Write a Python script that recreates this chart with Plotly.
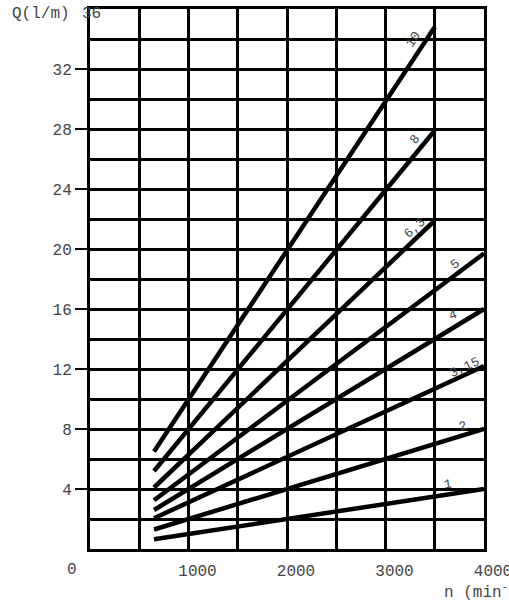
import plotly.graph_objects as go

# Data
names = ["1", "2", "3,15", "4", "5", "6,3", "8", "10"]
n_start = [650, 650, 650, 650, 650, 650, 650, 650]
n_end = [4000, 4000, 4000, 4000, 4000, 3500, 3500, 3500]
q_start = [0.65, 1.3, 2.05, 2.6, 3.25, 4.1, 5.2, 6.5]
q_end = [4.0, 8.0, 12.2, 16.0, 19.7, 21.9, 27.9, 34.8]

label_n = [3635, 3787, 3807, 3685, 3705, 3290, 3300, 3280]
label_q = [4.3, 8.2, 12.1, 15.6, 19.0, 21.4, 27.3, 34.0]
label_angle = [-9, -17, -25, -20, -37, -42, -51, -56]

x_ticks = [1000, 2000, 3000, 4000]
y_ticks = [4, 8, 12, 16, 20, 24, 28, 32]

FONT = "Courier New, Courier, Nimbus Mono PS, FreeMono, Liberation Mono, monospace"
TXT = "#444444"

fig = go.Figure()
for i, nm in enumerate(names):
    fig.add_trace(go.Scatter(
        x=[n_start[i], n_end[i]], y=[q_start[i], q_end[i]],
        mode="lines", line=dict(color="black", width=4.5),
        name=nm, showlegend=False, hoverinfo="skip"))
    fig.add_annotation(x=label_n[i], y=label_q[i], text=nm, showarrow=False,
                       textangle=label_angle[i],
                       font=dict(family=FONT, size=13, color=TXT))

fig.add_annotation(xref="paper", yref="paper", x=-0.0457, y=-0.039, text="0",
                   xanchor="center", yanchor="middle",
                   showarrow=False, font=dict(family=FONT, size=16, color=TXT))
fig.add_annotation(xref="paper", yref="paper", x=0.005, y=0.9907, text="36",
                   xanchor="center", yanchor="middle",
                   showarrow=False, font=dict(family=FONT, size=16, color=TXT))
fig.add_annotation(xref="paper", yref="paper", x=-0.203, y=0.9907, text="Q(l/m)",
                   xanchor="left", yanchor="middle", showarrow=False,
                   font=dict(family=FONT, size=16, color=TXT))
fig.add_annotation(xref="paper", yref="paper", x=0.893, y=-0.0796,
                   text="n (min<sup>-1</sup>)", xanchor="left", yanchor="middle",
                   showarrow=False, font=dict(family=FONT, size=16, color=TXT))

fig.update_layout(
    width=509, height=600,
    margin=dict(l=90, r=25, t=9, b=51),
    paper_bgcolor="white", plot_bgcolor="white",
    font=dict(family=FONT, size=16, color=TXT),
    xaxis=dict(range=[0, 4000], tickvals=x_ticks, ticks="",
               showgrid=True, gridcolor="black", gridwidth=3,
               minor=dict(dtick=500, tick0=0, showgrid=True, gridcolor="black", gridwidth=3),
               showline=True, linecolor="black", linewidth=3, mirror=True,
               zeroline=False, ticklabelshift=9, ticklabelstandoff=5,
               automargin=False, ticklabeloverflow="allow"),
    yaxis=dict(range=[0, 36], tickvals=y_ticks, ticks="outside", ticklen=12,
               tickwidth=2, tickcolor="black",
               showgrid=True, gridcolor="black", gridwidth=3,
               minor=dict(dtick=2, tick0=0, showgrid=True, gridcolor="black", gridwidth=3),
               showline=True, linecolor="black", linewidth=3, mirror=True,
               zeroline=False, automargin=False),
)

fig.write_html("out.html", config={"displayModeBar": False},
               post_script="document.body.style.margin='0';document.body.style.overflow='hidden';")
